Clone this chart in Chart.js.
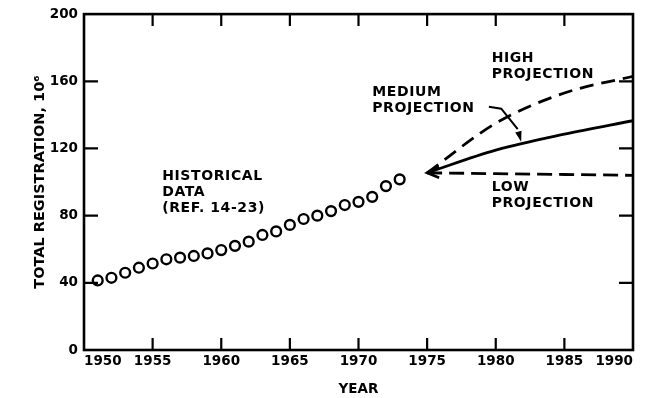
<!DOCTYPE html>
<html>
<head>
<meta charset="utf-8">
<script src="https://cdn.jsdelivr.net/npm/chart.js@4.4.0/dist/chart.umd.min.js"></script>
<style>
  html, body { margin: 0; padding: 0; background: #fff; }
</style>
</head>
<body>
<canvas id="chart" width="648" height="398"></canvas>
<script>
// historical registrations (millions)
const histYears = [1951, 1952, 1953, 1954, 1955, 1956, 1957, 1958, 1959, 1960, 1961, 1962,
                   1963, 1964, 1965, 1966, 1967, 1968, 1969, 1970, 1971, 1972, 1973];
const histValues = [41.4, 43, 46, 49, 51.5, 54, 55, 56, 57.5, 59.5, 62, 64.5,
                    68.5, 70.6, 74.5, 78, 80, 82.7, 86.3, 88.2, 91.2, 97.6, 101.6];

// projections
const projYears = [1975, 1980, 1985, 1990];
const highValues = [105.5, 135, 153, 163];
const mediumValues = [105.5, 119, 128.5, 136.5];
const lowValues = [105.5, 105, 104.5, 104];

const FONT = '"DejaVu Sans", "Liberation Sans", sans-serif';

// text notes, anchored in data units (year, value of first line centre)
const notes = [
    { lines: ['HIGH', 'PROJECTION'], x: 1979.7, y: 173.6 },
    { lines: ['MEDIUM', 'PROJECTION'], x: 1971.0, y: 153.7 },
    { lines: ['HISTORICAL', 'DATA', '(REF. 14-23)'], x: 1955.7, y: 103.2 },
    { lines: ['LOW', 'PROJECTION'], x: 1979.7, y: 97.1 }
];

// leader from "MEDIUM PROJECTION" to the medium line
const leader = [
    { x: 1979.5, y: 144.9 },
    { x: 1980.4, y: 143.7 },
    { x: 1981.6, y: 131.5 },
    { x: 1981.85, y: 124 }
];

function pts(xs, ys) {
    return xs.map((x, i) => ({ x: x, y: ys[i] }));
}

const frameAndNotes = {
    id: 'frameAndNotes',
    afterDraw(chart) {
        const c = chart.ctx;
        const xs = chart.scales.x;
        const ys = chart.scales.y;
        const a = chart.chartArea;
        c.save();
        c.strokeStyle = '#000';
        c.fillStyle = '#000';
        c.lineCap = 'butt';

        // frame
        c.lineWidth = 2.6;
        c.strokeRect(a.left, a.top, a.right - a.left, a.bottom - a.top);

        // inward ticks on all four sides
        c.lineWidth = 2.2;
        xs.ticks.forEach(t => {
            if (t.value === xs.min || t.value === xs.max) return;
            const px = xs.getPixelForValue(t.value);
            c.beginPath();
            c.moveTo(px, a.bottom); c.lineTo(px, a.bottom - 12);
            c.moveTo(px, a.top); c.lineTo(px, a.top + 12);
            c.stroke();
        });
        ys.ticks.forEach(t => {
            if (t.value === ys.min || t.value === ys.max) return;
            const py = ys.getPixelForValue(t.value);
            c.beginPath();
            c.moveTo(a.left, py); c.lineTo(a.left + 14, py);
            c.moveTo(a.right, py); c.lineTo(a.right - 14, py);
            c.stroke();
        });

        // chevron at the start of the projections
        const sx = xs.getPixelForValue(projYears[0]);
        const sy = ys.getPixelForValue(mediumValues[0]);
        c.lineWidth = 2.6;
        c.beginPath();
        c.moveTo(sx + 12, sy - 6); c.lineTo(sx, sy); c.lineTo(sx + 12, sy + 5);
        c.stroke();

        // leader with arrowhead
        const lp = leader.map(p => ({ x: xs.getPixelForValue(p.x), y: ys.getPixelForValue(p.y) }));
        c.lineWidth = 2;
        c.beginPath();
        c.moveTo(lp[0].x, lp[0].y);
        for (let i = 1; i < lp.length - 1; i++) c.lineTo(lp[i].x, lp[i].y);
        c.stroke();
        const tip = lp[lp.length - 1];
        const prev = lp[lp.length - 2];
        const ang = Math.atan2(tip.y - prev.y, tip.x - prev.x);
        c.beginPath();
        c.moveTo(tip.x, tip.y);
        c.lineTo(tip.x - 11 * Math.cos(ang - 0.3), tip.y - 11 * Math.sin(ang - 0.3));
        c.lineTo(tip.x - 11 * Math.cos(ang + 0.3), tip.y - 11 * Math.sin(ang + 0.3));
        c.closePath();
        c.fill();

        // notes
        c.font = 'bold 14px ' + FONT;
        c.letterSpacing = '0.6px';
        c.textAlign = 'left';
        c.textBaseline = 'middle';
        notes.forEach(n => {
            const px = xs.getPixelForValue(n.x);
            const py = ys.getPixelForValue(n.y);
            n.lines.forEach((txt, i) => c.fillText(txt, px, py + i * 16));
        });
        c.restore();
    }
};

const ctx = document.getElementById('chart').getContext('2d');
const config = {
    type: 'scatter',
    data: {
        datasets: [{
            label: 'Historical data',
            data: pts(histYears, histValues),
            showLine: false,
            pointStyle: 'circle',
            pointRadius: 4.9,
            pointBorderWidth: 2.4,
            pointBackgroundColor: '#fff',
            pointBorderColor: '#000'
        }, {
            label: 'High projection',
            data: pts(projYears, highValues),
            showLine: true,
            borderColor: '#000',
            borderWidth: 2.8,
            borderDash: [14, 8],
            pointRadius: 0,
            cubicInterpolationMode: 'monotone'
        }, {
            label: 'Medium projection',
            data: pts(projYears, mediumValues),
            showLine: true,
            borderColor: '#000',
            borderWidth: 2.8,
            pointRadius: 0,
            cubicInterpolationMode: 'monotone'
        }, {
            label: 'Low projection',
            data: pts(projYears, lowValues),
            showLine: true,
            borderColor: '#000',
            borderWidth: 2.8,
            borderDash: [15, 7],
            pointRadius: 0
        }]
    },
    options: {
        responsive: false,
        animation: false,
        devicePixelRatio: 1,
        layout: { padding: { top: 9, right: 15, left: 0, bottom: 0 } },
        plugins: {
            legend: { display: false },
            tooltip: { enabled: false }
        },
        scales: {
            x: {
                type: 'linear',
                min: 1950,
                max: 1990,
                afterFit: (s) => { s.height = 48; },
                grid: { display: false, drawTicks: false },
                border: { display: false },
                ticks: {
                    stepSize: 5,
                    align: 'inner',
                    padding: 3,
                    color: '#000',
                    font: { family: FONT, size: 13.5, weight: 'bold' },
                    callback: (v) => String(v)
                },
                title: {
                    display: true,
                    text: 'YEAR',
                    color: '#000',
                    padding: 0,
                    font: { family: FONT, size: 13.5, weight: 'bold' }
                }
            },
            y: {
                min: 0,
                max: 200,
                afterFit: (s) => { s.width = 84; },
                grid: { display: false, drawTicks: false },
                border: { display: false },
                ticks: {
                    stepSize: 40,
                    padding: 6,
                    color: '#000',
                    font: { family: FONT, size: 13.5, weight: 'bold' }
                },
                title: {
                    display: true,
                    text: 'TOTAL REGISTRATION, 10⁶',
                    color: '#000',
                    padding: { top: 32, bottom: 0 },
                    font: { family: FONT, size: 14.5, weight: 'bold' }
                }
            }
        }
    },
    plugins: [frameAndNotes]
};
const myChart = new Chart(ctx, config);
</script>
</body>
</html>
